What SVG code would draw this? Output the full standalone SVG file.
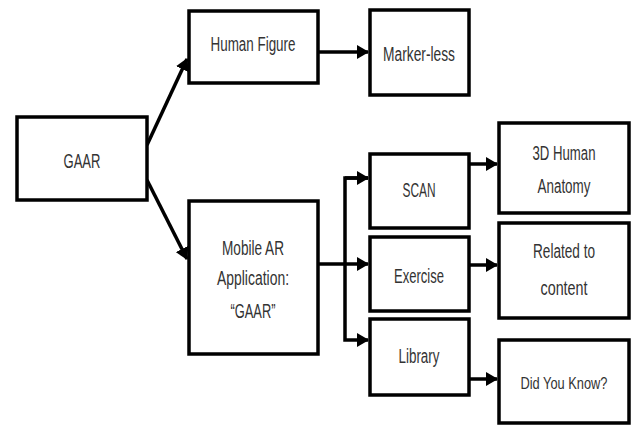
<svg xmlns="http://www.w3.org/2000/svg" width="631" height="426" viewBox="0 0 631 426">
<style>
.box{fill:#fff;stroke:#000;stroke-width:3.5}
.t{font-family:"Liberation Sans",Arial,sans-serif;font-size:20px;fill:#333;text-anchor:middle}
.c{fill:none;stroke:#000;stroke-width:3.5}
</style>
<defs>
<marker id="ah" markerWidth="4" markerHeight="4" refX="3.2" refY="2" orient="auto" markerUnits="strokeWidth">
<path d="M0,0 L3.5,2 L0,4 Z" fill="#000"/>
</marker>
</defs>
<rect width="631" height="426" fill="#fff"/>
<g id="connectors">
<line class="c" x1="147" y1="145" x2="187" y2="59" marker-end="url(#ah)"/>
<line class="c" x1="147" y1="180" x2="187" y2="259" marker-end="url(#ah)"/>
<line class="c" x1="318" y1="52" x2="368" y2="52" marker-end="url(#ah)"/>
<line class="c" x1="318" y1="264" x2="368" y2="264" marker-end="url(#ah)"/>
<polyline class="c" points="368,178 345,178 345,340 368,340" marker-end="url(#ah)"/>
<line class="c" x1="345" y1="178" x2="368" y2="178" marker-end="url(#ah)"/>
<line class="c" x1="469" y1="164" x2="497" y2="164" marker-end="url(#ah)"/>
<line class="c" x1="469" y1="265" x2="497" y2="265" marker-end="url(#ah)"/>
<line class="c" x1="469" y1="379" x2="497" y2="379" marker-end="url(#ah)"/>
</g>
<g id="gaar"><rect class="box" x="17" y="117" width="130" height="83"/><text class="t" x="82" y="168" textLength="37" lengthAdjust="spacingAndGlyphs">GAAR</text></g>
<g id="human-figure"><rect class="box" x="189" y="11" width="129" height="72"/><text class="t" x="253" y="51" textLength="85" lengthAdjust="spacingAndGlyphs">Human Figure</text></g>
<g id="marker-less"><rect class="box" x="370" y="10" width="99" height="85"/><text class="t" x="419" y="61" textLength="72" lengthAdjust="spacingAndGlyphs">Marker-less</text></g>
<g id="mobile-ar"><rect class="box" x="189" y="201" width="129" height="153"/><text class="t" x="253" y="255" textLength="62" lengthAdjust="spacingAndGlyphs">Mobile AR</text><text class="t" x="253" y="285" textLength="72" lengthAdjust="spacingAndGlyphs">Application:</text><text class="t" x="253" y="318" textLength="45" lengthAdjust="spacingAndGlyphs">“GAAR”</text></g>
<g id="scan"><rect class="box" x="370" y="154" width="99" height="74"/><text class="t" x="419" y="197" textLength="33" lengthAdjust="spacingAndGlyphs">SCAN</text></g>
<g id="exercise"><rect class="box" x="370" y="237" width="99" height="74"/><text class="t" x="419" y="283" textLength="50" lengthAdjust="spacingAndGlyphs">Exercise</text></g>
<g id="library"><rect class="box" x="370" y="319" width="99" height="76"/><text class="t" x="419" y="363" textLength="41" lengthAdjust="spacingAndGlyphs">Library</text></g>
<g id="anatomy"><rect class="box" x="499" y="123" width="130" height="90"/><text class="t" x="564" y="160" textLength="63" lengthAdjust="spacingAndGlyphs">3D Human</text><text class="t" x="564" y="193" textLength="53" lengthAdjust="spacingAndGlyphs">Anatomy</text></g>
<g id="related"><rect class="box" x="499" y="223" width="130" height="95"/><text class="t" x="564" y="258" textLength="62" lengthAdjust="spacingAndGlyphs">Related to</text><text class="t" x="564" y="295" textLength="47" lengthAdjust="spacingAndGlyphs">content</text></g>
<g id="didyouknow"><rect class="box" x="499" y="340" width="130" height="83"/><text class="t" x="564" y="389" style="font-size:16px" textLength="87" lengthAdjust="spacingAndGlyphs">Did You Know?</text></g>
</svg>
